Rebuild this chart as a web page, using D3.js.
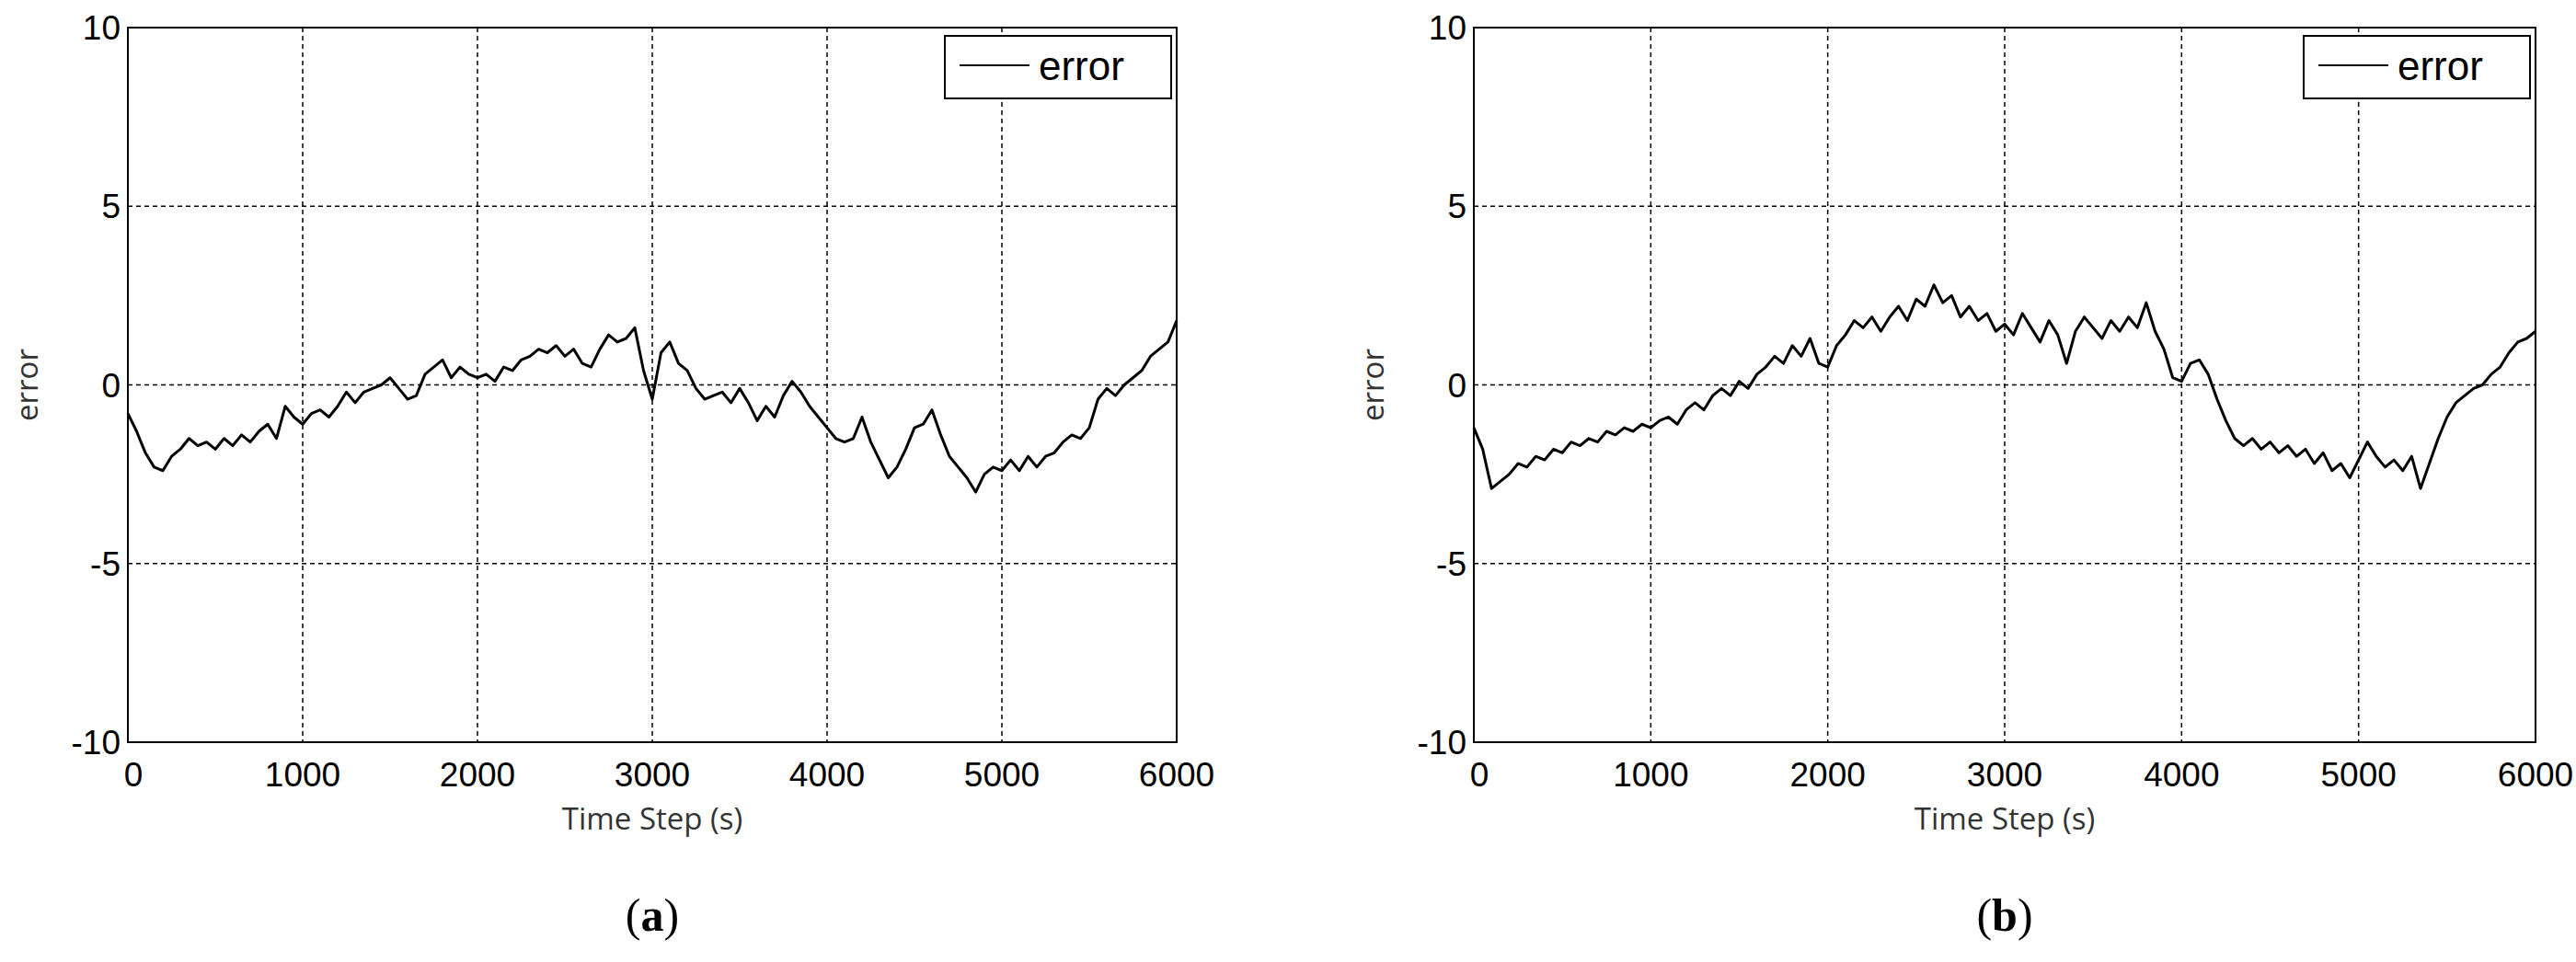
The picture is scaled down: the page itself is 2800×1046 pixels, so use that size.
<!DOCTYPE html>
<html>
<head>
<meta charset="utf-8">
<script src="https://cdn.jsdelivr.net/npm/d3@7"></script>
<style>
body { margin: 0; background: #fff; }
</style>
</head>
<body>
<svg id="chart" width="2800" height="1046"></svg>
<script>
// time steps, every 50 s
var steps = d3.range(0, 6001, 50);

// error series
var errorA = [-0.8,-1.3,-1.9,-2.3,-2.4,-2.0,-1.8,-1.5,-1.7,-1.6,-1.8,-1.5,-1.7,-1.4,-1.6,-1.3,-1.1,-1.5,-0.6,-0.9,
  -1.1,-0.8,-0.7,-0.9,-0.6,-0.2,-0.5,-0.2,-0.1,0.0,0.2,-0.1,-0.4,-0.3,0.3,0.5,0.7,0.2,0.5,0.3,
  0.2,0.3,0.1,0.5,0.4,0.7,0.8,1.0,0.9,1.1,0.8,1.0,0.6,0.5,1.0,1.4,1.2,1.3,1.6,0.4,
  -0.4,0.9,1.2,0.6,0.4,-0.1,-0.4,-0.3,-0.2,-0.5,-0.1,-0.5,-1.0,-0.6,-0.9,-0.3,0.1,-0.2,-0.6,-0.9,
  -1.2,-1.5,-1.6,-1.5,-0.9,-1.6,-2.1,-2.6,-2.3,-1.8,-1.2,-1.1,-0.7,-1.4,-2.0,-2.3,-2.6,-3.0,-2.5,-2.3,
  -2.4,-2.1,-2.4,-2.0,-2.3,-2.0,-1.9,-1.6,-1.4,-1.5,-1.2,-0.4,-0.1,-0.3,0.0,0.2,0.4,0.8,1.0,1.2,1.8];

// error series
var errorB = [-1.2,-1.8,-2.9,-2.7,-2.5,-2.2,-2.3,-2.0,-2.1,-1.8,-1.9,-1.6,-1.7,-1.5,-1.6,-1.3,-1.4,-1.2,-1.3,-1.1,
  -1.2,-1.0,-0.9,-1.1,-0.7,-0.5,-0.7,-0.3,-0.1,-0.3,0.1,-0.1,0.3,0.5,0.8,0.6,1.1,0.8,1.3,0.6,
  0.5,1.1,1.4,1.8,1.6,1.9,1.5,1.9,2.2,1.8,2.4,2.2,2.8,2.3,2.5,1.9,2.2,1.8,2.0,1.5,
  1.7,1.4,2.0,1.6,1.2,1.8,1.4,0.6,1.5,1.9,1.6,1.3,1.8,1.5,1.9,1.6,2.3,1.5,1.0,0.2,
  0.1,0.6,0.7,0.3,-0.4,-1.0,-1.5,-1.7,-1.5,-1.8,-1.6,-1.9,-1.7,-2.0,-1.8,-2.2,-1.9,-2.4,-2.2,-2.6,
  -2.1,-1.6,-2.0,-2.3,-2.1,-2.4,-2.0,-2.9,-2.2,-1.5,-0.9,-0.5,-0.3,-0.1,0.0,0.3,0.5,0.9,1.2,1.3,1.5];

var xTicks = [0, 1000, 2000, 3000, 4000, 5000, 6000];
var yTicks = [-10, -5, 0, 5, 10];

var svg = d3.select("#chart");

var drawPanel = function(left, right, values, letter) {
    var top = 30, bottom = 807;
    var x = d3.scaleLinear().domain([0, 6000]).range([left, right]);
    var y = d3.scaleLinear().domain([-10, 10]).range([bottom, top]);
    var g = svg.append("g");

    //grid
    g.selectAll(".gx").data(xTicks.slice(1, -1)).enter().append("line")
        .attr("x1", x).attr("x2", x).attr("y1", top).attr("y2", bottom)
        .attr("stroke", "#000").attr("stroke-width", 1.5).attr("stroke-dasharray", "5,4");
    g.selectAll(".gy").data(yTicks.slice(1, -1)).enter().append("line")
        .attr("y1", y).attr("y2", y).attr("x1", left).attr("x2", right)
        .attr("stroke", "#000").attr("stroke-width", 1.5).attr("stroke-dasharray", "5,4");

    //tick labels
    g.selectAll(".tx").data(xTicks).enter().append("text")
        .attr("x", function(d){ return x(d) + (d === 0 ? 6 : 0); }).attr("y", bottom + 48)
        .attr("text-anchor", "middle").attr("font-family", "Liberation Sans, Arial")
        .attr("font-size", 37).text(function(d){ return d; });
    g.selectAll(".ty").data(yTicks).enter().append("text")
        .attr("x", left - 8).attr("y", function(d){ return y(d) + 13; })
        .attr("text-anchor", "end").attr("font-family", "Liberation Sans, Arial")
        .attr("font-size", 37).text(function(d){ return d; });

    //line
    var line = d3.line()
        .x(function(d, i){ return x(steps[i]); })
        .y(function(d){ return y(d); });
    g.append("path").datum(values).attr("d", line)
        .attr("fill", "none").attr("stroke", "#000").attr("stroke-width", 3).attr("stroke-linejoin", "round");

    //frame
    g.append("rect").attr("x", left).attr("y", top).attr("width", right - left).attr("height", bottom - top)
        .attr("fill", "none").attr("stroke", "#000").attr("stroke-width", 2);

    //legend
    g.append("rect").attr("x", right - 252).attr("y", top + 9).attr("width", 246).attr("height", 68)
        .attr("fill", "#fff").attr("stroke", "#000").attr("stroke-width", 2);
    g.append("line").attr("x1", right - 236).attr("x2", right - 160).attr("y1", top + 41).attr("y2", top + 41)
        .attr("stroke", "#000").attr("stroke-width", 2);
    g.append("text").attr("x", right - 150).attr("y", top + 57)
        .attr("font-family", "Liberation Sans, Arial").attr("font-size", 44).text("error");

    //axis titles
    g.append("text").attr("x", (left + right) / 2).attr("y", bottom + 95)
        .attr("text-anchor", "middle").attr("font-family", "Open Sans, Noto Sans").attr("font-size", 33)
        .attr("fill", "#333").text("Time Step (s)");
    g.append("text").attr("transform", "translate(" + (left - 98) + "," + y(0) + ") rotate(-90)")
        .attr("text-anchor", "middle").attr("font-family", "Open Sans, Noto Sans").attr("font-size", 33)
        .attr("fill", "#333").text("error");

    //panel letter
    var t = g.append("text").attr("x", (left + right) / 2).attr("y", bottom + 205)
        .attr("text-anchor", "middle").attr("font-family", "Liberation Serif, Times New Roman")
        .attr("font-size", 50);
    t.append("tspan").text("(");
    t.append("tspan").attr("font-weight", "bold").text(letter);
    t.append("tspan").text(")");
};

drawPanel(139, 1279, errorA, "a");
drawPanel(1602, 2756, errorB, "b");
</script>
</body>
</html>
